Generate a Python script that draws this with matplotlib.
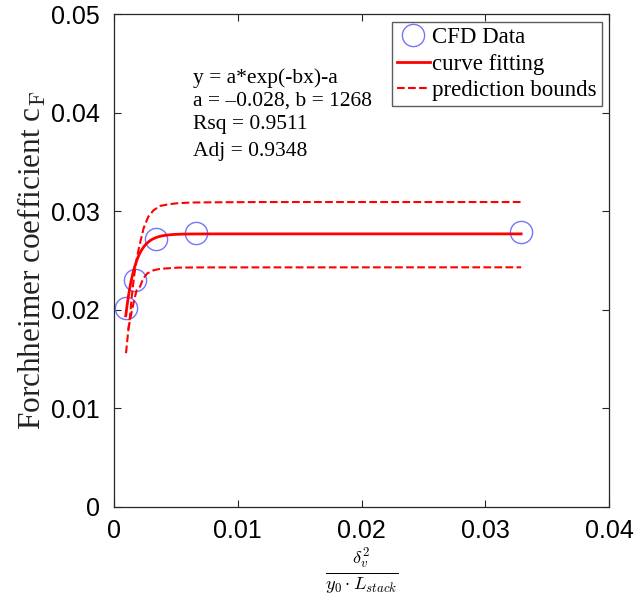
import matplotlib
matplotlib.use("Agg")
import matplotlib.pyplot as plt
import numpy as np

plt.rcParams['mathtext.fontset'] = 'cm'

# CFD data points
cfd_x = [0.00097, 0.0017, 0.00337, 0.00663, 0.0329]
cfd_y = [0.02015, 0.0230, 0.02718, 0.02776, 0.02792]

# fitted curve y = a*exp(-bx)-a
a_fit = -0.0277
b_fit = 1268
fit_x0, fit_x1 = 0.00095, 0.0329

# prediction bounds
upper_x = [0.00097, 0.00113, 0.00129, 0.00145, 0.00162, 0.00185, 0.0021, 0.0024,
           0.00277, 0.0032, 0.00372, 0.0044, 0.00507, 0.0062, 0.00776, 0.012, 0.0329]
upper_y = [0.0156, 0.0176, 0.0193, 0.0215, 0.02336, 0.0253, 0.02675, 0.0283,
           0.02944, 0.0301, 0.03053, 0.0307, 0.0308, 0.03088, 0.0309, 0.03093, 0.03093]
lower_x = [0.00115, 0.00135, 0.0016, 0.00183, 0.0021, 0.00237, 0.0027, 0.00318,
           0.0037, 0.00426, 0.0052, 0.007, 0.0329]
lower_y = [0.0180, 0.0193, 0.0208, 0.0220, 0.02234, 0.0232, 0.0237, 0.0240,
           0.02415, 0.0242, 0.02428, 0.0243, 0.02431]

xticks = [0, 0.01, 0.02, 0.03, 0.04]
yticks = [0, 0.01, 0.02, 0.03, 0.04, 0.05]

fig = plt.figure(figsize=(6.35, 6.01), dpi=100)
ax = fig.add_axes([114/635, 94/601, 495/635, 493/601])

fx = np.linspace(fit_x0, fit_x1, 600)
fy = a_fit*np.exp(-b_fit*fx) - a_fit

ax.plot(cfd_x, cfd_y, 'o', ms=16, mfc='none', mec='#7474ff', mew=1.0, label='CFD Data')
ax.plot(fx, fy, '-', color='red', lw=2, label='curve fitting')
ax.plot(upper_x, upper_y, '--', color='red', lw=1.5, label='prediction bounds')
ax.plot(lower_x, lower_y, '--', color='red', lw=1.5)

ax.set_xlim(0, 0.04)
ax.set_ylim(0, 0.05)
ax.set_xticks(xticks)
ax.set_yticks(yticks)
ax.set_xticklabels(['0', '0.01', '0.02', '0.03', '0.04'])
ax.set_yticklabels(['0', '0.01', '0.02', '0.03', '0.04', '0.05'])
ax.tick_params(direction='in', top=True, right=True, length=5, width=0.8,
               colors='#262626', labelcolor='black', labelsize=18)
ax.tick_params(axis='x', pad=9)
ax.tick_params(axis='y', pad=10)
for t in ax.get_xticklabels() + ax.get_yticklabels():
    t.set_family('Liberation Sans')
for s in ax.spines.values():
    s.set_color('#262626')
    s.set_linewidth(0.9)

ax.set_ylabel('Forchheimer coefficient c$_{\\mathrm{F}}$', family='Liberation Serif',
              fontsize=22.5, color='#222222', labelpad=2)
ax.set_xlabel(r'$\frac{\delta_v^2}{y_0\cdot L_{stack}}$', fontsize=19, labelpad=1)

lines = ['y = a*exp(-bx)-a', 'a = \u20130.028, b = 1268', 'Rsq = 0.9511', 'Adj = 0.9348']
ypos = [0.870, 0.824, 0.775, 0.722]
for s, yy in zip(lines, ypos):
    ax.text(0.160, yy, s, transform=ax.transAxes, family='Liberation Serif',
            fontsize=15.5, va='center', ha='left')

leg = ax.legend(loc='upper right', bbox_to_anchor=(0.985, 0.983), prop={'family': 'Liberation Serif', 'size': 16.5},
                frameon=True, fancybox=False, edgecolor='#333333', handlelength=1.45,
                handletextpad=0.1, borderpad=0.2, labelspacing=0.24, borderaxespad=0)
leg.get_frame().set_linewidth(1.0)

fig.savefig('out.png', dpi=100)
